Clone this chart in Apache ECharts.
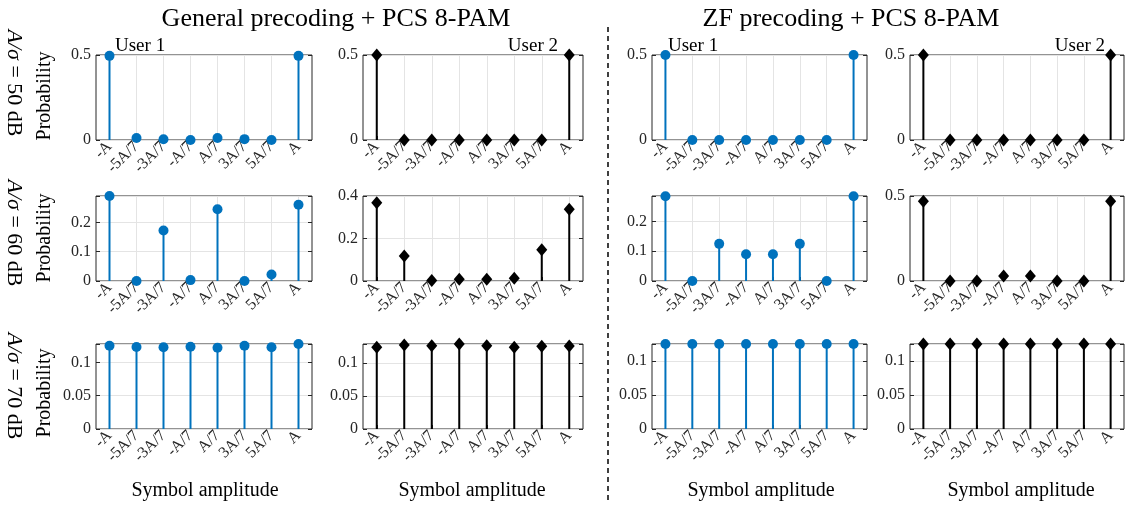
<!DOCTYPE html>
<html>
<head>
<meta charset="utf-8">
<script src="https://cdn.jsdelivr.net/npm/echarts@6/dist/echarts.min.js"></script>
<style>
  html, body { margin: 0; padding: 0; background: #fff; }
  #chart { width: 1128px; height: 506px; }
</style>
</head>
<body>
<div id="chart"></div>
<script>
// symbol amplitudes of the PCS 8-PAM constellation
const symbols = ['-A', '-5A/7', '-3A/7', '-A/7', 'A/7', '3A/7', '5A/7', 'A']

// A/sigma = 50 dB
const gen50User1 = [0.495, 0.012, 0.004, 0, 0.012, 0.005, 0, 0.495]
const gen50User2 = [0.5, 0, 0, 0, 0, 0, 0, 0.5]
const zf50User1 = [0.5, 0, 0, 0, 0, 0, 0, 0.5]
const zf50User2 = [0.5, 0, 0, 0, 0, 0, 0, 0.5]
// A/sigma = 60 dB
const gen60User1 = [0.29, 0, 0.172, 0.003, 0.245, 0, 0.022, 0.26]
const gen60User2 = [0.368, 0.118, 0.002, 0.008, 0.008, 0.013, 0.147, 0.338]
const zf60User1 = [0.285, 0, 0.125, 0.09, 0.09, 0.125, 0, 0.285]
const zf60User2 = [0.469, 0, 0, 0.029, 0.029, 0, 0, 0.469]
// A/sigma = 70 dB
const gen70User1 = [0.125, 0.123, 0.1225, 0.1235, 0.122, 0.125, 0.1225, 0.1275]
const gen70User2 = [0.124, 0.1276, 0.1265, 0.129, 0.1265, 0.124, 0.1255, 0.126]
const zf70User1 = [0.125, 0.125, 0.125, 0.125, 0.125, 0.125, 0.125, 0.125]
const zf70User2 = [0.125, 0.125, 0.125, 0.125, 0.125, 0.125, 0.125, 0.125]

const panelData = [
  [gen50User1, gen50User2, zf50User1, zf50User2],
  [gen60User1, gen60User2, zf60User1, zf60User2],
  [gen70User1, gen70User2, zf70User1, zf70User2]
]
// y limits and tick steps of each subplot
const yMax = [[0.5, 0.5, 0.5, 0.5], [0.29, 0.4, 0.286, 0.5], [0.1275, 0.129, 0.125, 0.125]]
const yStep = [[0.5, 0.5, 0.5, 0.5], [0.1, 0.2, 0.1, 0.5], [0.05, 0.05, 0.05, 0.05]]
const rowLabels = ['50 dB', '60 dB', '70 dB']
const titles = ['General precoding + PCS 8-PAM', 'ZF precoding + PCS 8-PAM']

const FONT = "'Liberation Serif', 'DejaVu Serif', serif"
const INK = '#262626'
const BLUE = '#0072BD'

// subplot placement (px)
const colLeft = [96, 363, 652, 910]
const colWidth = [216, 220, 215, 214]
const rowTop = [55, 196, 344]
const rowHeight = 85

const chart = echarts.init(document.getElementById('chart'), null, { renderer: 'canvas' })

const grid = []
const xAxis = []
const yAxis = []
const series = []

for (let r = 0; r < 3; r++) {
  for (let c = 0; c < 4; c++) {
    const idx = r * 4 + c
    const step = yStep[r][c]
    const isUser1 = c % 2 === 0
    const color = isUser1 ? BLUE : '#000'

    grid.push({
      left: colLeft[c],
      top: rowTop[r],
      width: colWidth[c],
      height: rowHeight,
      show: true,
      borderColor: INK,
      borderWidth: 1,
      backgroundColor: 'transparent'
    })
    xAxis.push({
      type: 'category',
      gridIndex: idx,
      data: symbols,
      boundaryGap: true,
      axisLine: { show: false },
      axisTick: { show: true, inside: true, alignWithLabel: true, length: 4, interval: 0, lineStyle: { color: INK } },
      splitLine: { show: true, alignWithLabel: true, interval: 0, lineStyle: { color: '#e4e4e4', width: 1 } },
      axisLabel: {
        rotate: 45, interval: 0, margin: 4,
        fontFamily: FONT, fontSize: 16, color: INK
      }
    })
    yAxis.push({
      type: 'value',
      gridIndex: idx,
      min: 0,
      max: yMax[r][c],
      interval: step,
      axisLine: { show: false },
      axisTick: { show: true, inside: true, length: 4, lineStyle: { color: INK } },
      splitLine: { show: true, lineStyle: { color: '#e4e4e4', width: 1 } },
      axisLabel: {
        margin: 5, fontFamily: FONT, fontSize: 16, color: INK,
        formatter: v => Math.abs(v / step - Math.round(v / step)) < 1e-6 ? String(+v.toFixed(3)) : ''
      }
    })
    // right side ticks only
    yAxis.push({
      type: 'value',
      gridIndex: idx,
      position: 'right',
      min: 0,
      max: yMax[r][c],
      interval: step,
      axisLine: { show: false },
      axisTick: { show: true, inside: true, length: 4, lineStyle: { color: INK } },
      splitLine: { show: false },
      axisLabel: { show: false }
    })

    // stem lines
    series.push({
      type: 'bar',
      xAxisIndex: idx,
      yAxisIndex: idx * 2,
      barWidth: 2,
      silent: true,
      itemStyle: { color: color },
      data: panelData[r][c],
      z: 2
    })
    // stem markers
    series.push({
      type: 'scatter',
      xAxisIndex: idx,
      yAxisIndex: idx * 2,
      symbol: isUser1 ? 'circle' : 'diamond',
      symbolSize: isUser1 ? 10 : [11, 13],
      silent: true,
      itemStyle: { color: color, opacity: 1 },
      data: panelData[r][c],
      z: 3
    })
  }
}

const graphic = []
// column group titles
graphic.push({
  type: 'text', x: 336, y: 19,
  style: { text: titles[0], fontFamily: FONT, fontSize: 26, fill: '#000', align: 'center', verticalAlign: 'middle' }
})
graphic.push({
  type: 'text', x: 851, y: 19,
  style: { text: titles[1], fontFamily: FONT, fontSize: 26, fill: '#000', align: 'center', verticalAlign: 'middle' }
})
// user labels
const userLabels = [
  { text: 'User 1', x: 115, align: 'left' },
  { text: 'User 2', x: 558, align: 'right' },
  { text: 'User 1', x: 668, align: 'left' },
  { text: 'User 2', x: 1105, align: 'right' }
]
userLabels.forEach(u => {
  graphic.push({
    type: 'text', x: u.x, y: 46,
    style: { text: u.text, fontFamily: FONT, fontSize: 19, fill: '#000', align: u.align, verticalAlign: 'middle' }
  })
})
// row labels and y axis names
const rowLabelY = [83, 233, 386]
const probY = [96, 238, 393]
for (let r = 0; r < 3; r++) {
  graphic.push({
    type: 'text', x: 14, y: rowLabelY[r], rotation: -Math.PI / 2,
    style: {
      text: '{i|A/σ} = ' + rowLabels[r],
      fontFamily: FONT, fontSize: 22, fill: '#000', align: 'center', verticalAlign: 'middle',
      rich: { i: { fontFamily: FONT, fontSize: 22, fontStyle: 'italic', fill: '#000' } }
    }
  })
  graphic.push({
    type: 'text', x: 45, y: probY[r], rotation: Math.PI / 2,
    style: { text: 'Probability', fontFamily: FONT, fontSize: 20, fill: '#000', align: 'center', verticalAlign: 'middle' }
  })
}
// x axis names
const xNameX = [205, 472, 761, 1021]
xNameX.forEach(x => {
  graphic.push({
    type: 'text', x: x, y: 491,
    style: { text: 'Symbol amplitude', fontFamily: FONT, fontSize: 20, fill: '#000', align: 'center', verticalAlign: 'middle' }
  })
})
// dashed separator
graphic.push({
  type: 'line',
  shape: { x1: 608, y1: 27, x2: 608, y2: 502 },
  style: { stroke: '#000', lineWidth: 1.5, lineDash: [5, 4] }
})

chart.setOption({
  animation: false,
  backgroundColor: '#fff',
  grid: grid,
  xAxis: xAxis,
  yAxis: yAxis,
  series: series,
  graphic: graphic
})
</script>
</body>
</html>
